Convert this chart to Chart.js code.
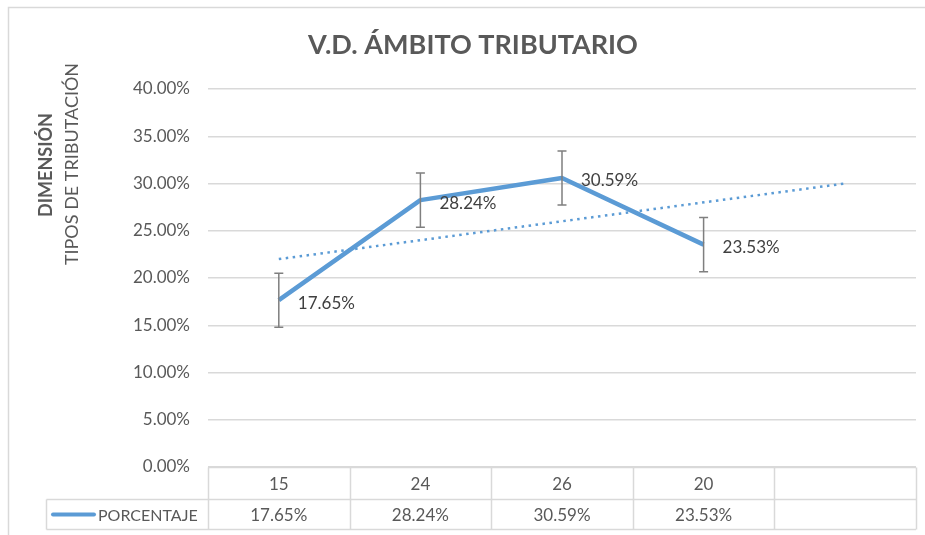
<!DOCTYPE html>
<html>
<head>
<meta charset="utf-8">
<script src="https://cdn.jsdelivr.net/npm/chart.js@4/dist/chart.umd.min.js"></script>
<style>
  body { margin: 0; background: #fff; }
  #wrap { width: 925px; height: 535px; }
</style>
</head>
<body>
<div id="wrap"><canvas id="chart" width="925" height="535"></canvas></div>
<script>
// V.D. Ámbito tributario — line + error bars + trendline + data table

const FONT = "Lato, 'Open Sans', sans-serif";
const TEXT = '#595959';
const LINE_BLUE = '#5b9bd5';
const GRID = '#d9d9d9';

const categories = ['15', '24', '26', '20', ''];
const porcentaje = [17.65, 28.24, 30.59, 23.53, null];
const tableValues = ['17.65%', '28.24%', '30.59%', '23.53%', ''];
const trendValues = [22.0, null, null, null, 30.0];   // linear trend
const errorAmount = 2.86;                             // ± error bar
const yTicks = [0, 5, 10, 15, 20, 25, 30, 35, 40];

const chartTitle = 'V.D. ÁMBITO TRIBUTARIO';
const yTitleBold = 'DIMENSIÓN';
const yTitle = 'TIPOS DE TRIBUTACIÓN';
const seriesName = 'PORCENTAJE';

// ── custom drawing: frame, titles, error bars, labels, data table ──
const excelBits = {
  id: 'excelBits',
  beforeDraw(chart) {
    const { ctx } = chart;
    ctx.save();
    ctx.fillStyle = '#fff';
    ctx.fillRect(0, 0, chart.width, chart.height);
    ctx.strokeStyle = GRID;
    ctx.lineWidth = 1.5;
    ctx.strokeRect(8.5, 7.5, chart.width + 20, chart.height + 20);
    ctx.restore();
  },
  afterDatasetsDraw(chart) {
    const { ctx, scales: { x, y } } = chart;
    ctx.save();
    // error bars
    ctx.strokeStyle = '#7f7f7f';
    ctx.lineWidth = 1.5;
    porcentaje.forEach((v, i) => {
      if (v == null) return;
      const px = x.getPixelForValue(i);
      const top = y.getPixelForValue(v + errorAmount);
      const bot = y.getPixelForValue(v - errorAmount);
      ctx.beginPath();
      ctx.moveTo(px, top); ctx.lineTo(px, bot);
      ctx.moveTo(px - 4.5, top); ctx.lineTo(px + 4.5, top);
      ctx.moveTo(px - 4.5, bot); ctx.lineTo(px + 4.5, bot);
      ctx.stroke();
    });
    // data labels
    ctx.fillStyle = '#404040';
    ctx.font = `17px ${FONT}`;
    ctx.textAlign = 'left';
    ctx.textBaseline = 'middle';
    porcentaje.forEach((v, i) => {
      if (v == null) return;
      ctx.fillText(v.toFixed(2) + '%', x.getPixelForValue(i) + 19, y.getPixelForValue(v) + 3);
    });
    ctx.restore();
  },
  afterDraw(chart) {
    const { ctx, chartArea: ca, scales: { x } } = chart;
    ctx.save();

    // title
    ctx.fillStyle = TEXT;
    ctx.font = `bold 27px ${FONT}`;
    ctx.textAlign = 'center';
    ctx.textBaseline = 'middle';
    ctx.fillText(chartTitle, 473, 45);

    // y axis titles (rotated)
    ctx.save();
    ctx.translate(46, 165);
    ctx.rotate(-Math.PI / 2);
    ctx.font = `bold 18px ${FONT}`;
    ctx.fillText(yTitleBold, 0, 0);
    ctx.restore();
    ctx.save();
    ctx.translate(72, 164);
    ctx.rotate(-Math.PI / 2);
    ctx.font = `18px ${FONT}`;
    ctx.fillText(yTitle, 0, 0);
    ctx.restore();

    // data table
    const t0 = ca.bottom + 0.5, t1 = 499.5, t2 = 529.5;
    const n = categories.length;
    const band = (ca.right - ca.left) / n;
    const keyLeft = 46.5;
    ctx.strokeStyle = GRID;
    ctx.lineWidth = 1.5;
    ctx.beginPath();
    ctx.moveTo(ca.left, t0); ctx.lineTo(ca.right, t0);
    ctx.moveTo(keyLeft, t1); ctx.lineTo(ca.right, t1);
    ctx.moveTo(keyLeft, t2); ctx.lineTo(ca.right, t2);
    ctx.moveTo(keyLeft, t1); ctx.lineTo(keyLeft, t2);
    for (let i = 0; i <= n; i++) {
      const bx = Math.round(ca.left + band * i) + 0.5;
      ctx.moveTo(bx, t0); ctx.lineTo(bx, t2);
    }
    ctx.stroke();

    ctx.fillStyle = TEXT;
    ctx.font = `17px ${FONT}`;
    ctx.textAlign = 'center';
    ctx.textBaseline = 'middle';
    categories.forEach((c, i) => {
      const cx = x.getPixelForValue(i);
      ctx.fillText(c, cx, (t0 + t1) / 2 + 1);
      ctx.fillText(tableValues[i], cx, (t1 + t2) / 2 + 1);
    });

    // legend key in table
    ctx.strokeStyle = LINE_BLUE;
    ctx.lineWidth = 4;
    ctx.lineCap = 'round';
    ctx.beginPath();
    ctx.moveTo(53, 514.5); ctx.lineTo(94, 514.5);
    ctx.stroke();
    ctx.textAlign = 'left';
    ctx.font = `16px ${FONT}`;
    ctx.fillText(seriesName, 98, (t1 + t2) / 2 + 1);

    ctx.restore();
  }
};

new Chart(document.getElementById('chart'), {
  type: 'line',
  data: {
    labels: categories,
    datasets: [
      {
        label: seriesName,
        data: porcentaje,
        borderColor: LINE_BLUE,
        borderWidth: 4.5,
        pointRadius: 0,
        tension: 0,
        borderJoinStyle: 'round',
        order: 1,
      },
      {
        label: 'Lineal',
        data: trendValues,
        borderColor: LINE_BLUE,
        borderWidth: 2.5,
        borderDash: [2.5, 4.5],
        pointRadius: 0,
        spanGaps: true,
        order: 2,
      }
    ]
  },
  options: {
    responsive: false,
    animation: false,
    layout: { padding: { top: 89, right: 9, bottom: 68, left: 0 } },
    plugins: {
      legend: { display: false },
      tooltip: { enabled: false },
      title: { display: false },
    },
    scales: {
      x: {
        type: 'category',
        offset: true,
        display: false,
      },
      y: {
        min: 0,
        max: 40,
        afterFit: s => { s.width = 208; },
        afterBuildTicks: s => { s.ticks = yTicks.map(v => ({ value: v })); },
        border: { display: false },
        grid: { color: GRID, lineWidth: 1.5, drawTicks: false },
        ticks: {
          color: TEXT,
          padding: 18,
          font: { size: 17, family: FONT },
          callback: v => v.toFixed(2) + '%',
        }
      }
    }
  },
  plugins: [excelBits]
});
</script>
</body>
</html>
